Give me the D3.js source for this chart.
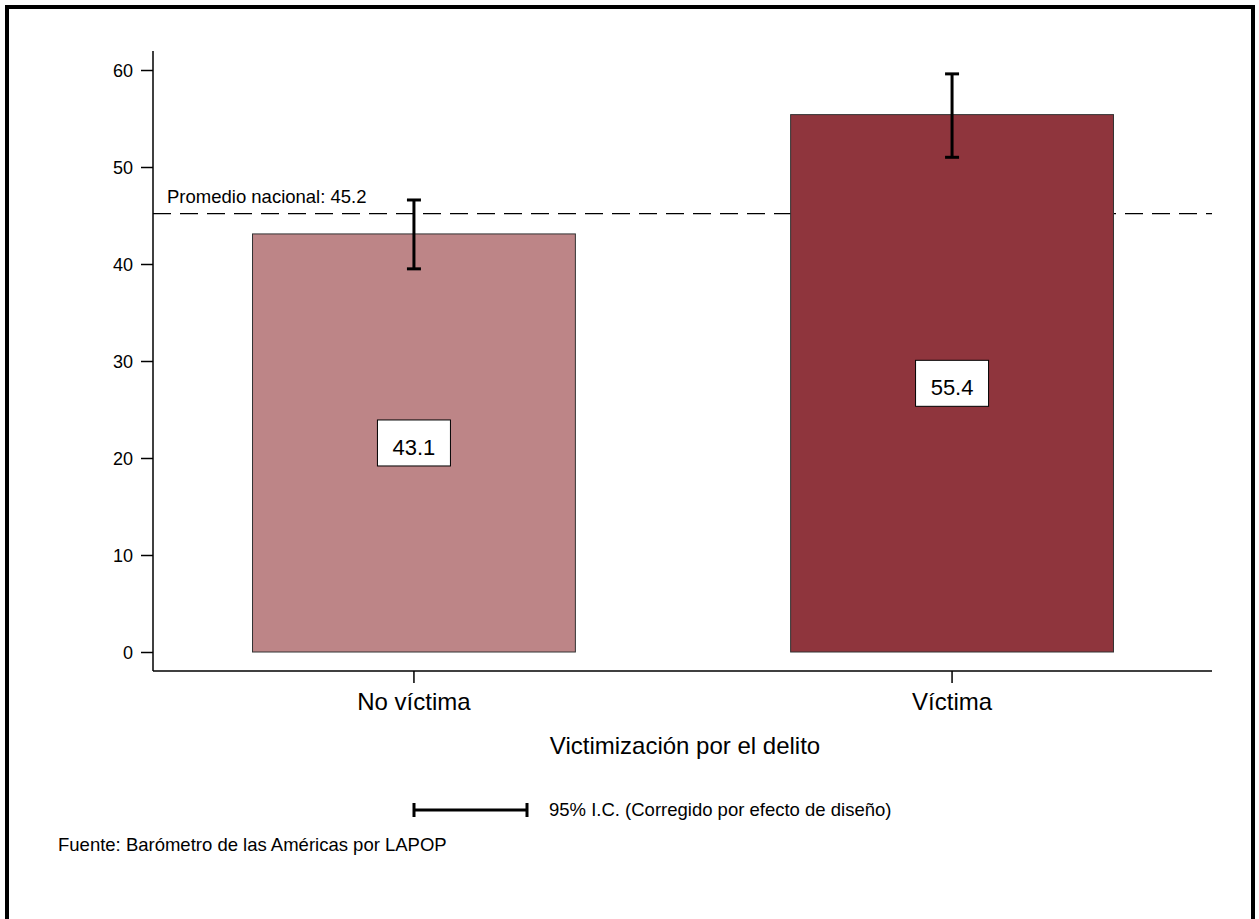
<!DOCTYPE html>
<html><head><meta charset="utf-8">
<script src="https://cdn.jsdelivr.net/npm/d3@7"></script>
<style>body{margin:0;background:#fff}svg{display:block}text{font-family:Arial,"Liberation Sans",sans-serif;fill:#000}</style>
</head><body><svg id="c" width="1259" height="919"></svg>
<script>
const categories = ["No víctima", "Víctima"];
const values = [43.1, 55.4];
const ciLow = [39.5, 51.0];
const ciHigh = [46.6, 59.6];
const barColors = ["#BD8587", "#8F353D"];
const yTicks = [0, 10, 20, 30, 40, 50, 60];
const nationalMean = 45.2;
const meanLabel = "Promedio nacional: 45.2";
const xTitle = "Victimización por el delito";
const legendText = "95% I.C. (Corregido por efecto de diseño)";
const sourceText = "Fuente: Barómetro de las Américas por LAPOP";

const FONT = "Arial, 'Liberation Sans', sans-serif";
const svg = d3.select("#c");
// frame
svg.append("rect").attr("x",7).attr("y",7).attr("width",1246).attr("height",940)
  .attr("fill","none").attr("stroke","#000").attr("stroke-width",4);

const y = d3.scaleLinear().domain([0,60]).range([652,70]);
const x = d3.scaleBand().domain(categories).range([198.7,1167.3]).paddingInner(0.4).paddingOuter(0.1);

// y axis
const yAxis = svg.append("g").attr("transform","translate(153,0)")
  .call(d3.axisLeft(y).tickValues(yTicks).tickSize(12).tickPadding(8).tickFormat(d3.format("d")));
yAxis.select(".domain").remove();
yAxis.append("line").attr("x1",0).attr("x2",0).attr("y1",51).attr("y2",671).attr("stroke","#000").attr("stroke-width",1.5);
yAxis.selectAll(".tick line").attr("stroke","#000").attr("stroke-width",1.5);
yAxis.selectAll(".tick text").style("font-size","18px").attr("font-family",FONT).attr("dy","0.34em");

// x axis
const xAxis = svg.append("g").attr("transform","translate(0,671)")
  .call(d3.axisBottom(x).tickSize(12).tickPadding(14));
xAxis.select(".domain").remove();
xAxis.append("line").attr("x1",153).attr("x2",1212).attr("y1",0).attr("y2",0).attr("stroke","#000").attr("stroke-width",1.5);
xAxis.selectAll(".tick line").attr("stroke","#000").attr("stroke-width",1.5);
xAxis.selectAll(".tick text").style("font-size","24px").attr("font-family",FONT).attr("dy","0.55em");

// mean line
svg.append("line").attr("x1",153).attr("x2",1212).attr("y1",y(nationalMean)).attr("y2",y(nationalMean))
  .attr("stroke","#000").attr("stroke-width",1.2).attr("stroke-dasharray","18,9");
svg.append("text").attr("x",167).attr("y",y(nationalMean)-11).style("font-size","18.5px").text(meanLabel);

// bars
svg.selectAll("rect.bar").data(values).join("rect").attr("class","bar")
  .attr("x",(d,i)=>x(categories[i])).attr("width",x.bandwidth())
  .attr("y",d=>y(d)).attr("height",d=>y(0)-y(d))
  .attr("fill",(d,i)=>barColors[i]).attr("stroke","#333").attr("stroke-width",1);

// error bars
const eb = svg.append("g");
values.forEach((v,i)=>{
  const cx = x(categories[i]) + x.bandwidth()/2;
  eb.append("line").attr("x1",cx).attr("x2",cx).attr("y1",y(ciHigh[i])).attr("y2",y(ciLow[i])).attr("stroke","#000").attr("stroke-width",3);
  [ciHigh[i],ciLow[i]].forEach(c=>eb.append("line").attr("x1",cx-7).attr("x2",cx+7).attr("y1",y(c)).attr("y2",y(c)).attr("stroke","#000").attr("stroke-width",3));
  // value box
  const cy = y(v/2);
  eb.append("rect").attr("x",cx-36.5).attr("y",cy-23).attr("width",73).attr("height",46).attr("fill","#fff").attr("stroke","#000").attr("stroke-width",1);
  eb.append("text").attr("x",cx).attr("y",cy+12).attr("text-anchor","middle").style("font-size","22px").text(v.toFixed(1));
});

// axis title
svg.append("text").attr("x",685).attr("y",754).attr("text-anchor","middle").style("font-size","24px").text(xTitle);

// legend
const lg = svg.append("g");
lg.append("line").attr("x1",414).attr("x2",527).attr("y1",810).attr("y2",810).attr("stroke","#000").attr("stroke-width",3);
[414,527].forEach(px=>lg.append("line").attr("x1",px).attr("x2",px).attr("y1",803).attr("y2",817).attr("stroke","#000").attr("stroke-width",3));
lg.append("text").attr("x",549).attr("y",816).style("font-size","18.5px").text(legendText);

svg.append("text").attr("x",58).attr("y",851).style("font-size","18.5px").text(sourceText);
</script></body></html>
